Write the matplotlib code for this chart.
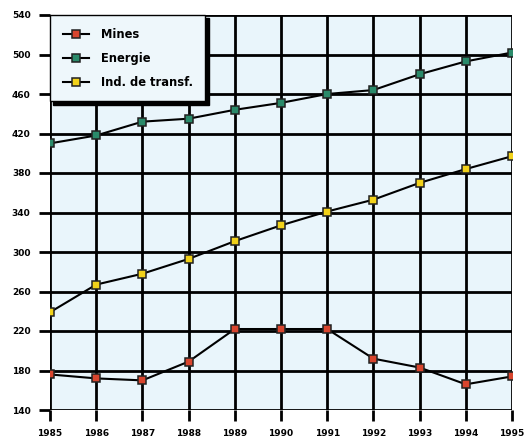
import matplotlib
matplotlib.use("Agg")
import matplotlib.pyplot as plt

years = [1985, 1986, 1987, 1988, 1989, 1990, 1991, 1992, 1993, 1994, 1995]
mines = [176, 172, 170, 189, 222, 222, 222, 192, 183, 166, 174]
energie = [410, 418, 432, 435, 444, 451, 460, 464, 480, 493, 502]
transf = [239, 267, 278, 293, 311, 327, 341, 353, 370, 384, 397]
yticks = [140, 180, 220, 260, 300, 340, 380, 420, 460, 500, 540]

fig = plt.figure(figsize=(5.28, 4.37), dpi=100)
ax = fig.add_axes([50/528, 27/437, 462/528, 395/437])
ax.set_facecolor("#e9f5fb")

series = [
    ("Mines", mines, "#d8452e"),
    ("Energie", energie, "#2a8a6a"),
    ("Ind. de transf.", transf, "#f2d21a"),
]
for name, vals, col in series:
    ax.plot(years, vals, color="black", lw=1.5, marker="s", ms=5.5,
            mfc=col, mec="#222222", mew=1.1, label=name, zorder=3)

ax.set_xlim(1985, 1995)
ax.set_ylim(140, 540)
ax.set_xticks(years)
ax.set_yticks(yticks)
ax.grid(True, color="black", lw=2, zorder=1)
ax.set_axisbelow(True)
for s in ax.spines.values():
    s.set_visible(False)
ax.tick_params(axis="both", length=8, width=2, color="black", labelsize=6.5, pad=6)
ax.set_xticklabels([str(y) for y in years], fontweight="bold")
ax.set_yticklabels([str(y) for y in yticks], fontweight="bold")

leg = ax.legend(loc="upper left", borderaxespad=0.0, frameon=True, fancybox=False,
                shadow={"color": "black", "alpha": 1.0, "ox": 2.5, "oy": -2.5},
                prop={"weight": "bold", "size": 8.3}, handlelength=2.3,
                handletextpad=1.0, borderpad=1.1, labelspacing=0.95)
leg.get_frame().set_edgecolor("black")
leg.get_frame().set_linewidth(1)
leg.get_frame().set_facecolor("#eef7fb")

fig.savefig("out.png", dpi=100, facecolor="white")
